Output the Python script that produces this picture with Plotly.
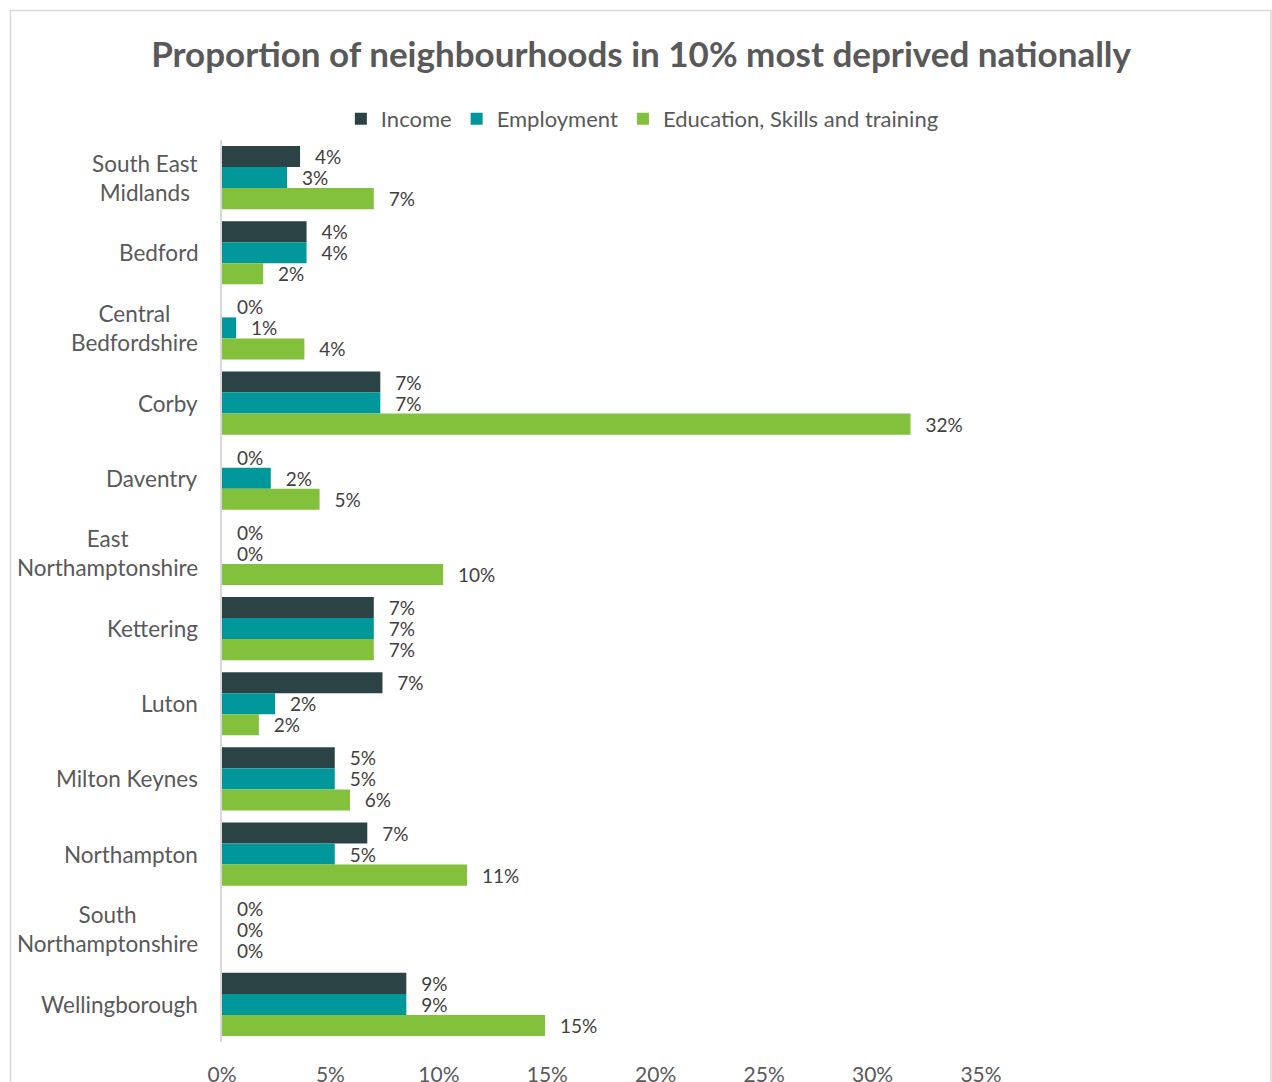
import plotly.graph_objects as go

# Areas listed top to bottom
areas = [
    "South East Midlands", "Bedford", "Central Bedfordshire", "Corby", "Daventry",
    "East Northamptonshire", "Kettering", "Luton", "Milton Keynes", "Northampton",
    "South Northamptonshire", "Wellingborough",
]
area_labels = [
    "South East<br>Midlands", "Bedford", "Central<br>Bedfordshire", "Corby", "Daventry",
    "East<br>Northamptonshire", "Kettering", "Luton", "Milton Keynes", "Northampton",
    "South<br>Northamptonshire", "Wellingborough",
]

# Share of neighbourhoods in the 10% most deprived nationally, by domain
income = [0.036, 0.039, 0.0, 0.073, 0.0, 0.0, 0.070, 0.074, 0.052, 0.067, 0.0, 0.085]
employment = [0.030, 0.039, 0.0065, 0.073, 0.0225, 0.0, 0.070, 0.0245, 0.052, 0.052, 0.0, 0.085]
education = [0.070, 0.019, 0.038, 0.3175, 0.045, 0.102, 0.070, 0.017, 0.059, 0.113, 0.0, 0.149]

series = [
    ("Income", income, "#2C4346"),
    ("Employment", employment, "#00979B"),
    ("Education, Skills and training", education, "#83C03B"),
]

x_ticks = [0, 0.05, 0.10, 0.15, 0.20, 0.25, 0.30, 0.35]

FONT = "Lato"
W, H = 1272, 1082
L, R, T, B = 222, 291, 140, 40

fig = go.Figure()
for name, vals, colour in series:
    fig.add_trace(go.Bar(
        name=name, y=areas, x=vals, orientation="h",
        marker=dict(color=colour, line=dict(width=0)),
        texttemplate="\u2002\u2009%{x:.0%}", textposition="outside",
        constraintext="none", cliponaxis=False, textangle=0,
        textfont=dict(family=FONT, size=19, color="#404040"),
        hoverinfo="x+y",
    ))

# Centered multi-line category labels left of the axis
annotations = [
    dict(x=0, y=a, xref="paper", yref="y", text=lab, showarrow=False,
         xanchor="right", align="center", xshift=-22,
         font=dict(family=FONT, size=22.5, color="#595959"))
    for a, lab in zip(areas, area_labels)
]

pw = W - L - R
ph = H - T - B
fig.update_layout(
    width=W, height=H,
    margin=dict(l=L, r=R, t=T, b=B, autoexpand=False),
    paper_bgcolor="white", plot_bgcolor="white",
    barmode="group", bargap=0.16, bargroupgap=0,
    title=dict(text="<b>Proportion of neighbourhoods in 10% most deprived nationally</b>",
               x=0.504, xanchor="center", y=1 - 55 / H, yanchor="middle",
               font=dict(family=FONT, size=35, color="#595959")),
    legend=dict(orientation="h", xref="container", x=0.505, xanchor="center",
                yref="container", y=1 - 119 / H, yanchor="middle",
                font=dict(family=FONT, size=22, color="#595959"),
                itemwidth=30, traceorder="normal"),
    xaxis=dict(range=[0, 0.35], tickvals=x_ticks, tickformat=".0%",
               showgrid=False, zeroline=False, showline=False, automargin=False,
               ticks="outside", ticklen=14, tickcolor="rgba(0,0,0,0)",
               tickfont=dict(family=FONT, size=21, color="#595959")),
    yaxis=dict(autorange="reversed", showticklabels=False, showgrid=False,
               zeroline=False, showline=True, linecolor="#D9D9D9", linewidth=1.5,
               ticks="", automargin=False),
    annotations=annotations,
    shapes=[dict(type="rect", xref="paper", yref="paper",
                 x0=(10.5 - L) / pw, x1=(1271 - L) / pw,
                 y0=(H - B - 1100) / ph, y1=(H - B - 10.5) / ph,
                 line=dict(color="#D9D9D9", width=1.5), fillcolor="rgba(0,0,0,0)",
                 layer="below")],
    font=dict(family=FONT),
)

fig.write_html("out.html")
